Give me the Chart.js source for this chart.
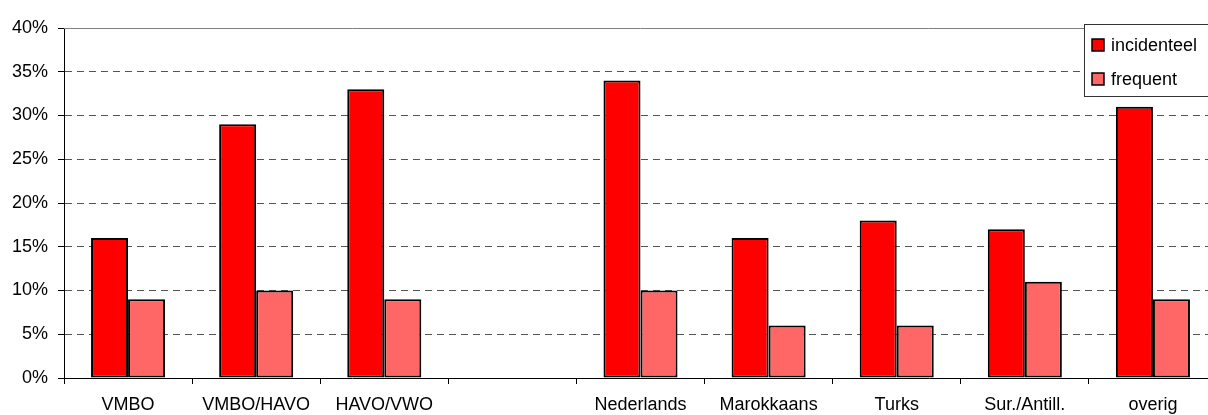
<!DOCTYPE html>
<html>
<head>
<meta charset="utf-8">
<script src="https://cdn.jsdelivr.net/npm/chart.js@4/dist/chart.umd.min.js"></script>
<style>
  html, body { margin: 0; padding: 0; background: #fff; overflow: hidden; }
  #wrap { width: 1208px; height: 415px; overflow: hidden; }
  #barChart { display: block; }
</style>
</head>
<body>
<div id="wrap"><canvas id="barChart" width="1230" height="415"></canvas></div>
<script>
const categories = ["VMBO", "VMBO/HAVO", "HAVO/VWO", "", "Nederlands", "Marokkaans", "Turks", "Sur./Antill.", "overig"];
const incidenteel = [16, 29, 33, null, 34, 16, 18, 17, 31];
const frequent = [9, 10, 9, null, 10, 6, 6, 11, 9];
const seriesNames = ["incidenteel", "frequent"];
const yTicks = [0, 5, 10, 15, 20, 25, 30, 35, 40];

const FONT = "'Liberation Sans', Arial, sans-serif";

// plot frame (solid top line) + legend box drawn by hand, Excel style
const excelBits = {
  id: "excelBits",
  beforeDatasetsDraw(chart) {
    const { ctx, chartArea } = chart;
    ctx.save();
    ctx.strokeStyle = "#808080";
    ctx.lineWidth = 1;
    ctx.beginPath();
    ctx.moveTo(chartArea.left, chartArea.top + 0.5);
    ctx.lineTo(chartArea.right, chartArea.top + 0.5);
    ctx.stroke();
    ctx.restore();
  },
  afterDatasetsDraw(chart) {
    const ctx = chart.ctx;
    const x = 1084, y = 24;
    ctx.save();
    ctx.fillStyle = "#fff";
    ctx.strokeStyle = "#333";
    ctx.lineWidth = 1;
    ctx.fillRect(x, y, 300, 72);
    ctx.strokeRect(x + 0.5, y + 0.5, 300, 72);
    ctx.font = "18px " + FONT;
    ctx.textBaseline = "middle";
    chart.data.datasets.forEach((ds, i) => {
      const cy = 45 + i * 34;
      ctx.fillStyle = ds.backgroundColor;
      ctx.fillRect(1092, cy - 6, 12, 12);
      ctx.strokeStyle = "#000";
      ctx.lineWidth = 1.5;
      ctx.strokeRect(1092, cy - 6, 12, 12);
      ctx.fillStyle = "#000";
      ctx.fillText(ds.label, 1111, cy + 1);
    });
    ctx.restore();
  }
};

const ctx = document.getElementById("barChart").getContext("2d");
new Chart(ctx, {
  type: "bar",
  data: {
    labels: categories,
    datasets: [
      {
        label: seriesNames[0],
        data: incidenteel,
        backgroundColor: "#FF0000",
        borderColor: "#000",
        borderWidth: 2,
        borderSkipped: false,
      },
      {
        label: seriesNames[1],
        data: frequent,
        backgroundColor: "#FF6666",
        borderColor: "#000",
        borderWidth: 2,
        borderSkipped: false,
      },
    ],
  },
  options: {
    responsive: false,
    animation: false,
    layout: { padding: { top: 28, right: 13, left: 0, bottom: 0 } },
    datasets: { bar: { categoryPercentage: 0.578, barPercentage: 1.0 } },
    plugins: {
      legend: { display: false },
      tooltip: { enabled: false },
    },
    scales: {
      x: {
        grid: { drawOnChartArea: false, tickLength: 6, color: "#000", offset: true },
        border: { color: "#000", width: 1 },
        ticks: { color: "#000", font: { family: FONT, size: 18 }, padding: 10, maxRotation: 0, autoSkip: false },
        afterFit(s) { s.height = 37; },
      },
      y: {
        min: 0,
        max: 40,
        afterBuildTicks(s) { s.ticks = yTicks.map(v => ({ value: v })); },
        grid: {
          color: (c) => (c.tick && (c.tick.value === 0 || c.tick.value === 40) ? "rgba(0,0,0,0)" : "#555"),
          tickColor: "#000",
          tickLength: 6,
        },
        border: { color: "#000", width: 1, dash: [7, 5] },
        ticks: {
          color: "#000",
          font: { family: FONT, size: 18 },
          padding: 10,
          callback: (v) => v + "%",
        },
        afterFit(s) { s.width = 64; },
      },
    },
  },
  plugins: [excelBits],
});
</script>
</body>
</html>
